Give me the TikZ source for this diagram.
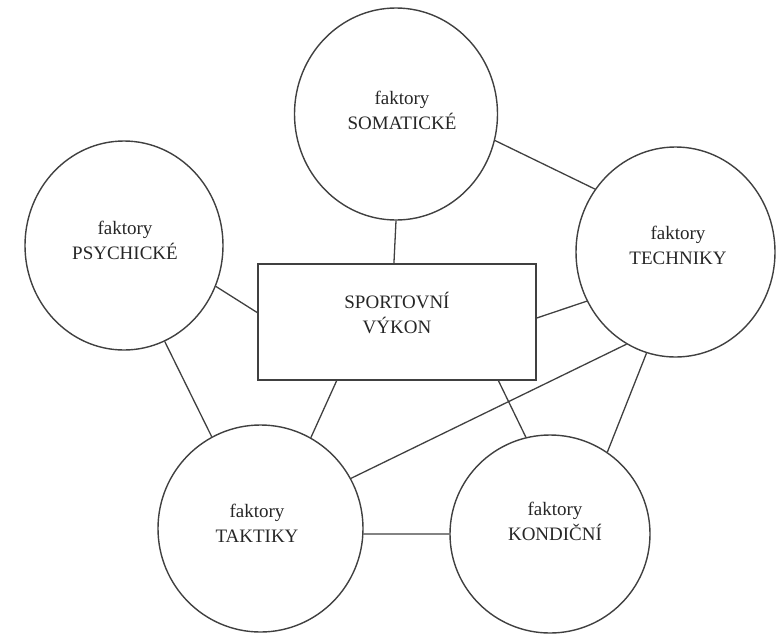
\documentclass[tikz,border=0pt]{standalone}
\usepackage{fontspec}
\setmainfont{Liberation Serif}
\usetikzlibrary{shapes.geometric,calc}
\begin{document}
\begin{tikzpicture}[x=1pt,y=-1pt,
  factor/.style={draw=black!75,line width=1.4pt,ellipse,inner sep=0pt},
  centerbox/.style={draw=black!75,line width=1.4pt,rectangle,inner sep=0pt,
    minimum width=278pt,minimum height=116pt},
  caption/.style={align=center,inner sep=0pt,text=black!85,
    font=\fontsize{19}{25}\selectfont},
  link/.style={draw=black!75,line width=1.3pt}]
\useasboundingbox (0,0) rectangle (776,635);

% factor circles and the central box
\node[factor,minimum width=203pt,minimum height=212pt] (som) at (396,114) {};
\node[factor,minimum width=198pt,minimum height=209pt] (psy) at (124,245.5) {};
\node[factor,minimum width=199pt,minimum height=210pt] (tech) at (675.5,252) {};
\node[factor,minimum width=205pt,minimum height=207pt] (tak) at (260.5,528.5) {};
\node[factor,minimum width=200pt,minimum height=198pt] (kon) at (550,534) {};
\node[centerbox] (box) at (397,322) {};

% labels
\node[caption] (somtxt) at (402,110) {faktory\\SOMATICKÉ};
\node[caption] (psytxt) at (125,240) {faktory\\PSYCHICKÉ};
\node[caption] (techtxt) at (678,245) {faktory\\TECHNIKY};
\node[caption] (taktxt) at (257,523) {faktory\\TAKTIKY};
\node[caption] (kontxt) at (555,521) {faktory\\KONDIČNÍ};
\node[caption] (boxtxt) at (397,313) {SPORTOVNÍ\\VÝKON};

% connections
\draw[link] (som.south) -- ($(box.north west)!0.489!(box.north east)$);
\draw[link] (som.-15.4) -- (tech.142.4);
\draw[link] (psy.-24.3) -- ($(box.north west)!0.42!(box.south west)$);
\draw[link] (psy.-67.6) -- (tak.118.2);
\draw[link] (tech.209.5) -- ($(box.north east)!0.466!(box.south east)$);
\draw[link] (tech.242.4) -- (tak.29.5);
\draw[link] (tech.254.3) -- (kon.55.2);
\draw[link] ($(box.south west)!0.284!(box.south east)$) -- (tak.61.7);
\draw[link] ($(box.south west)!0.863!(box.south east)$) -- (kon.104);
\draw[link] (tak.-3) -- (kon.180);
\end{tikzpicture}
\end{document}
